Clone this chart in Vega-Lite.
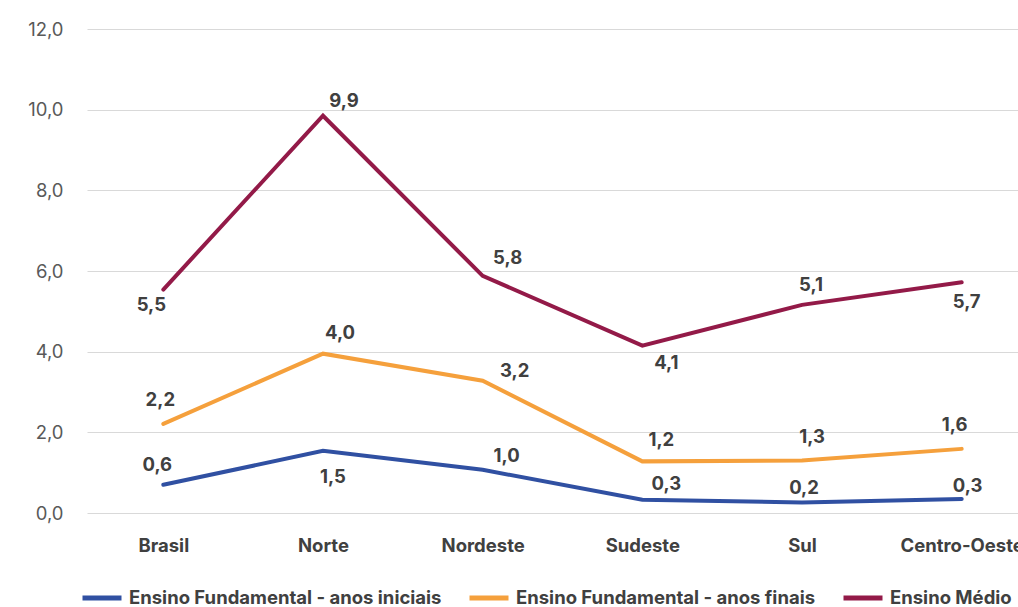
{
  "$schema": "https://vega.github.io/schema/vega-lite/v6.json",
  "width": 951,
  "height": 484,
  "padding": {"left": 27, "top": 20, "right": 5, "bottom": 5},
  "background": "white",
  "config": {
    "view": {"stroke": null},
    "font": "Inter",
    "locale": {"number": {"decimal": ",", "thousands": ".", "grouping": [3], "currency": ["R$", ""]}}
  },
  "data": {
    "values": [
      {"regiao": "Brasil", "serie": "Ensino Fundamental - anos iniciais", "valor": 0.7, "rotulo": "0,6"},
      {"regiao": "Norte", "serie": "Ensino Fundamental - anos iniciais", "valor": 1.54, "rotulo": "1,5"},
      {"regiao": "Nordeste", "serie": "Ensino Fundamental - anos iniciais", "valor": 1.07, "rotulo": "1,0"},
      {"regiao": "Sudeste", "serie": "Ensino Fundamental - anos iniciais", "valor": 0.33, "rotulo": "0,3"},
      {"regiao": "Sul", "serie": "Ensino Fundamental - anos iniciais", "valor": 0.26, "rotulo": "0,2"},
      {"regiao": "Centro-Oeste", "serie": "Ensino Fundamental - anos iniciais", "valor": 0.35, "rotulo": "0,3"},
      {"regiao": "Brasil", "serie": "Ensino Fundamental - anos finais", "valor": 2.21, "rotulo": "2,2"},
      {"regiao": "Norte", "serie": "Ensino Fundamental - anos finais", "valor": 3.95, "rotulo": "4,0"},
      {"regiao": "Nordeste", "serie": "Ensino Fundamental - anos finais", "valor": 3.28, "rotulo": "3,2"},
      {"regiao": "Sudeste", "serie": "Ensino Fundamental - anos finais", "valor": 1.28, "rotulo": "1,2"},
      {"regiao": "Sul", "serie": "Ensino Fundamental - anos finais", "valor": 1.3, "rotulo": "1,3"},
      {"regiao": "Centro-Oeste", "serie": "Ensino Fundamental - anos finais", "valor": 1.59, "rotulo": "1,6"},
      {"regiao": "Brasil", "serie": "Ensino Médio", "valor": 5.54, "rotulo": "5,5"},
      {"regiao": "Norte", "serie": "Ensino Médio", "valor": 9.85, "rotulo": "9,9"},
      {"regiao": "Nordeste", "serie": "Ensino Médio", "valor": 5.88, "rotulo": "5,8"},
      {"regiao": "Sudeste", "serie": "Ensino Médio", "valor": 4.15, "rotulo": "4,1"},
      {"regiao": "Sul", "serie": "Ensino Médio", "valor": 5.16, "rotulo": "5,1"},
      {"regiao": "Centro-Oeste", "serie": "Ensino Médio", "valor": 5.72, "rotulo": "5,7"}
    ]
  },
  "encoding": {
    "x": {
      "field": "regiao", "type": "nominal",
      "sort": ["Brasil", "Norte", "Nordeste", "Sudeste", "Sul", "Centro-Oeste"],
      "scale": {"type": "point", "padding": 0.478},
      "axis": {"title": null, "labelAngle": 0, "domain": false, "ticks": false, "labelPadding": 23,
               "labelFont": "Inter", "labelFontSize": 18.5, "labelFontWeight": "bold", "labelColor": "#404040"}
    },
    "y": {
      "field": "valor", "type": "quantitative",
      "scale": {"domain": [0, 12], "nice": false},
      "axis": {"title": null, "values": [0, 2, 4, 6, 8, 10, 12], "format": ".1f", "domain": false, "ticks": false,
               "labelPadding": 24, "labelFont": "Inter", "labelFontSize": 18.5, "labelColor": "#595959",
               "gridColor": "#d9d9d9", "gridWidth": 1}
    }
  },
  "layer": [
    {
      "mark": {"type": "line", "strokeWidth": 4, "strokeCap": "round", "strokeJoin": "miter"},
      "encoding": {
        "color": {
          "field": "serie", "type": "nominal",
          "scale": {
            "domain": ["Ensino Fundamental - anos iniciais", "Ensino Fundamental - anos finais", "Ensino Médio"],
            "range": ["#3050A2", "#F5A03C", "#931A48"]
          },
          "legend": {
            "title": null, "orient": "none", "direction": "horizontal", "legendX": -7, "legendY": 547,
            "symbolType": "stroke", "symbolSize": 1521, "symbolStrokeWidth": 5, "labelOffset": 5,
            "columnPadding": 17, "labelFont": "Inter", "labelFontSize": 18.5, "labelFontWeight": "bold",
            "labelColor": "#404040", "labelLimit": 0
          }
        }
      }
    },
    {"transform": [{"filter": "datum.regiao=='Brasil' && datum.serie=='Ensino Fundamental - anos iniciais'"}],
     "mark": {"type": "text", "dx": -6, "dy": -20, "fontSize": 18.5, "fontWeight": "bold", "color": "#404040"}, "encoding": {"text": {"field": "rotulo"}}},
    {"transform": [{"filter": "datum.regiao=='Norte' && datum.serie=='Ensino Fundamental - anos iniciais'"}],
     "mark": {"type": "text", "dx": 10, "dy": 26, "fontSize": 18.5, "fontWeight": "bold", "color": "#404040"}, "encoding": {"text": {"field": "rotulo"}}},
    {"transform": [{"filter": "datum.regiao=='Nordeste' && datum.serie=='Ensino Fundamental - anos iniciais'"}],
     "mark": {"type": "text", "dx": 24, "dy": -14, "fontSize": 18.5, "fontWeight": "bold", "color": "#404040"}, "encoding": {"text": {"field": "rotulo"}}},
    {"transform": [{"filter": "datum.regiao=='Sudeste' && datum.serie=='Ensino Fundamental - anos iniciais'"}],
     "mark": {"type": "text", "dx": 24, "dy": -16, "fontSize": 18.5, "fontWeight": "bold", "color": "#404040"}, "encoding": {"text": {"field": "rotulo"}}},
    {"transform": [{"filter": "datum.regiao=='Sul' && datum.serie=='Ensino Fundamental - anos iniciais'"}],
     "mark": {"type": "text", "dx": 2, "dy": -15, "fontSize": 18.5, "fontWeight": "bold", "color": "#404040"}, "encoding": {"text": {"field": "rotulo"}}},
    {"transform": [{"filter": "datum.regiao=='Centro-Oeste' && datum.serie=='Ensino Fundamental - anos iniciais'"}],
     "mark": {"type": "text", "dx": 6, "dy": -13, "fontSize": 18.5, "fontWeight": "bold", "color": "#404040"}, "encoding": {"text": {"field": "rotulo"}}},
    {"transform": [{"filter": "datum.regiao=='Brasil' && datum.serie=='Ensino Fundamental - anos finais'"}],
     "mark": {"type": "text", "dx": -3, "dy": -24, "fontSize": 18.5, "fontWeight": "bold", "color": "#404040"}, "encoding": {"text": {"field": "rotulo"}}},
    {"transform": [{"filter": "datum.regiao=='Norte' && datum.serie=='Ensino Fundamental - anos finais'"}],
     "mark": {"type": "text", "dx": 17, "dy": -21, "fontSize": 18.5, "fontWeight": "bold", "color": "#404040"}, "encoding": {"text": {"field": "rotulo"}}},
    {"transform": [{"filter": "datum.regiao=='Nordeste' && datum.serie=='Ensino Fundamental - anos finais'"}],
     "mark": {"type": "text", "dx": 32, "dy": -10, "fontSize": 18.5, "fontWeight": "bold", "color": "#404040"}, "encoding": {"text": {"field": "rotulo"}}},
    {"transform": [{"filter": "datum.regiao=='Sudeste' && datum.serie=='Ensino Fundamental - anos finais'"}],
     "mark": {"type": "text", "dx": 19, "dy": -21, "fontSize": 18.5, "fontWeight": "bold", "color": "#404040"}, "encoding": {"text": {"field": "rotulo"}}},
    {"transform": [{"filter": "datum.regiao=='Sul' && datum.serie=='Ensino Fundamental - anos finais'"}],
     "mark": {"type": "text", "dx": 10, "dy": -24, "fontSize": 18.5, "fontWeight": "bold", "color": "#404040"}, "encoding": {"text": {"field": "rotulo"}}},
    {"transform": [{"filter": "datum.regiao=='Centro-Oeste' && datum.serie=='Ensino Fundamental - anos finais'"}],
     "mark": {"type": "text", "dx": -7, "dy": -24, "fontSize": 18.5, "fontWeight": "bold", "color": "#404040"}, "encoding": {"text": {"field": "rotulo"}}},
    {"transform": [{"filter": "datum.regiao=='Brasil' && datum.serie=='Ensino Médio'"}],
     "mark": {"type": "text", "dx": -12, "dy": 15, "fontSize": 18.5, "fontWeight": "bold", "color": "#404040"}, "encoding": {"text": {"field": "rotulo"}}},
    {"transform": [{"filter": "datum.regiao=='Norte' && datum.serie=='Ensino Médio'"}],
     "mark": {"type": "text", "dx": 21, "dy": -15, "fontSize": 18.5, "fontWeight": "bold", "color": "#404040"}, "encoding": {"text": {"field": "rotulo"}}},
    {"transform": [{"filter": "datum.regiao=='Nordeste' && datum.serie=='Ensino Médio'"}],
     "mark": {"type": "text", "dx": 25, "dy": -18, "fontSize": 18.5, "fontWeight": "bold", "color": "#404040"}, "encoding": {"text": {"field": "rotulo"}}},
    {"transform": [{"filter": "datum.regiao=='Sudeste' && datum.serie=='Ensino Médio'"}],
     "mark": {"type": "text", "dx": 24, "dy": 17, "fontSize": 18.5, "fontWeight": "bold", "color": "#404040"}, "encoding": {"text": {"field": "rotulo"}}},
    {"transform": [{"filter": "datum.regiao=='Sul' && datum.serie=='Ensino Médio'"}],
     "mark": {"type": "text", "dx": 9, "dy": -20, "fontSize": 18.5, "fontWeight": "bold", "color": "#404040"}, "encoding": {"text": {"field": "rotulo"}}},
    {"transform": [{"filter": "datum.regiao=='Centro-Oeste' && datum.serie=='Ensino Médio'"}],
     "mark": {"type": "text", "dx": 5, "dy": 20, "fontSize": 18.5, "fontWeight": "bold", "color": "#404040"}, "encoding": {"text": {"field": "rotulo"}}}
  ]
}
